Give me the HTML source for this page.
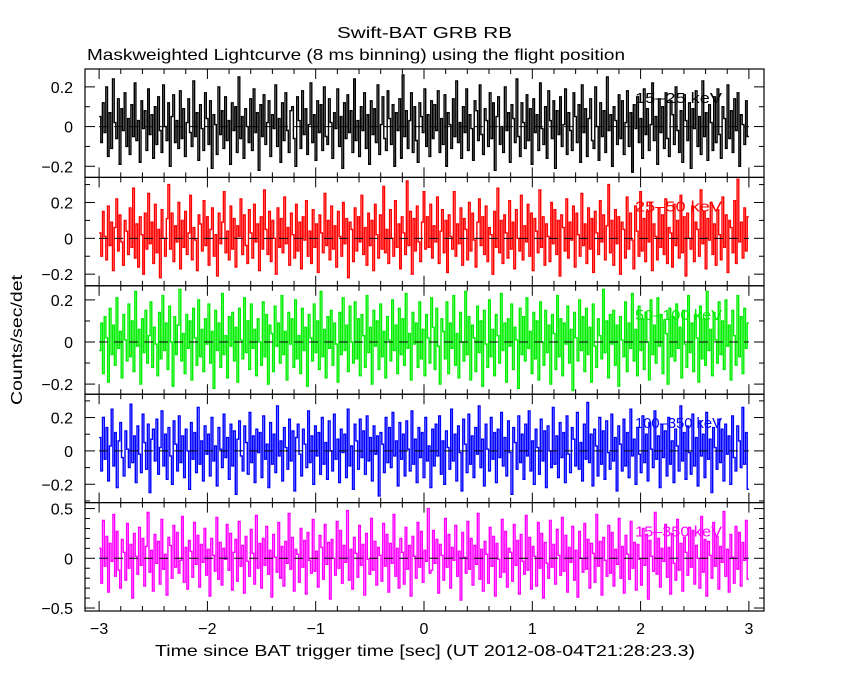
<!DOCTYPE html>
<html><head><meta charset="utf-8"><style>
html,body{margin:0;padding:0;background:#fff;}
svg{display:block;font-family:"Liberation Sans",sans-serif;}
</style></head><body>
<svg id="chart" width="850" height="680" viewBox="0 0 850 680" xmlns="http://www.w3.org/2000/svg">
<text x="337" y="38" font-size="16" textLength="175" lengthAdjust="spacingAndGlyphs">Swift-BAT GRB RB</text>
<text x="87" y="60" font-size="16" textLength="538" lengthAdjust="spacingAndGlyphs">Maskweighted Lightcurve (8 ms binning) using the flight position</text>
<text x="0" y="0" font-size="16" textLength="130" lengthAdjust="spacingAndGlyphs" transform="translate(22,405) rotate(-90)">Counts/sec/det</text>
<text x="155" y="656" font-size="16" textLength="540" lengthAdjust="spacingAndGlyphs">Time since BAT trigger time [sec] (UT 2012-08-04T21:28:23.3)</text>
<g id="plots"></g>
</svg>
<script>
const xTicks=[-3,-2,-1,0,1,2,3];
const bandLabels=["15\u201325 keV","25\u201350 keV","50\u2013100 keV","100\u2013350 keV","15\u2013350 keV"];
const bandColors=["#000000","#ff0000","#00ee00","#0000ff","#ff00ff"];
const yTickLabels=[[0.2,0,-0.2],[0.2,0,-0.2],[0.2,0,-0.2],[0.2,0,-0.2],[0.5,0,-0.5]];
const yRanges=[[-0.256,0.29],[-0.265,0.34],[-0.248,0.267],[-0.31,0.34],[-0.53,0.56]];
const series1=[5,-8,12,-3,20,-15,7,-11,24,2,-6,14,-19,9,-2,17,-10,4,-14,11,-5,22,-7,3,-18,13,-1,8,-12,19,-4,6,-16,10,-9,15,-2,-13,21,0,-7,12,-20,5,16,-8,3,-11,18,-6,9,-15,2,14,-3,-10,23,-5,7,-17,11,-1,-12,17,4,-9,13,-21,6,1,-14,20,-4,8,-11,15,-7,3,-19,12,-2,10,-13,25,-6,5,-16,9,0,-8,14,-12,19,-3,7,-22,11,-5,16,-9,2,13,-15,6,-1,21,-10,4,-18,12,-7,17,-2,-13,8,10,-6,-20,15,3,-11,18,-4,9,-14,1,22,-8,6,-17,13,-3,11,-12,20,-5,-9,14,2,-16,7,-1,19,-10,5,-21,12,-6,16,-3,8,-13,24,-7,3,-15,10,-2,17,-11,6,-19,13,-4,9,-8,21,-14,1,15,-6,-12,18,4,-9,11,-20,7,-2,14,-16,26,-5,8,-11,3,17,-13,10,-7,-18,12,5,-3,19,-10,6,-15,13,
-6,11,-2,18,-13,4,-9,16,-20,7,1,-11,14,-5,23,-8,2,-16,10,-3,19,-12,6,-1,-17,13,8,-7,21,-4,-14,9,3,-10,17,-6,12,-22,5,15,-9,0,-13,20,-2,7,-18,11,4,-8,24,-5,-15,12,2,-11,16,-7,9,-19,14,-3,6,-12,22,-1,-9,10,-16,18,3,-6,13,-21,8,-4,15,-10,1,19,-14,7,-2,-12,17,5,-8,11,-18,21,-3,9,-15,4,14,-7,-11,20,0,-17,12,-5,8,-13,25,-2,6,-20,10,3,-9,16,-6,13,-14,2,18,-10,7,-23,11,-1,15,-8,4,-16,19,-4,9,-12,1,22,-7,5,-19,14,-3,10,-11,17,-6,-15,13,6,-9,20,-2,-13,8,-18,16,3,-7,12,-21,9,-1,18,-10,5,-14,23,-5,7,-17,11,2,-12,15,-8,19,-4,-16,10,4,-11,21,-6,8,-13,14,-2,17,-20,6,1,-9,13,-5];
const series2=[3,-10,15,1,-12,18,-4,9,-18,6,22,-7,13,-2,-15,10,4,-9,17,-5,28,-11,8,-16,12,2,-20,14,-6,25,-3,9,-14,19,-8,5,-22,16,0,-10,11,30,-6,14,-13,7,-2,20,-17,10,-5,15,-9,3,24,-12,6,-1,-18,13,8,-7,21,-4,12,-15,5,17,-10,2,-21,14,-3,9,26,-8,4,-12,18,-6,11,-16,7,1,22,-9,13,-4,-14,16,3,-11,19,-2,8,-18,12,-6,27,5,-9,15,-13,10,0,-20,17,-5,11,-8,23,-3,6,-15,14,2,-11,19,-7,9,-17,12,-1,21,-10,4,-14,16,-5,8,-19,13,3,-8,25,-4,10,-12,18,-6,7,-16,15,1,-10,20,-3,11,-22,9,5,-13,17,-7,12,-2,24,-9,6,-15,14,-4,10,-18,19,2,-11,13,-6,29,-8,5,-14,16,0,-10,21,-5,8,-17,12,3,-9,32,-4,15,-20,11,-7,18,-2,-13,9,26,-6,
12,-5,19,-11,7,-2,23,-14,4,16,-8,10,-19,13,1,-6,26,-10,8,-3,17,-15,11,5,-12,20,-7,14,-1,-16,9,22,-4,12,-9,18,-13,6,2,-20,15,-5,28,-8,10,-14,13,3,-11,21,-6,9,-17,16,0,-7,24,-12,7,-2,19,-10,14,-18,11,4,-8,27,-5,12,-15,8,1,-13,20,-3,16,-9,10,-21,13,6,-7,22,-11,9,-1,18,-16,14,2,-10,25,-4,8,-14,17,-6,11,-19,15,3,-9,21,-2,13,-12,7,30,-8,10,-15,16,-3,12,-20,9,5,-11,23,-6,14,-1,-17,18,4,-10,26,-7,11,-13,15,-2,20,-18,8,1,-12,17,-5,13,-9,22,-14,6,3,-16,19,-4,10,-11,24,-8,12,-21,14,0,-6,18,-13,9,5,-10,27,-3,15,-17,11,-1,20,-9,8,-15,16,2,-12,23,-5,13,-19,10,6,-8,21,-14,33,-2,9,-11,17,-7,12];
const series3=[-4,9,-15,12,2,-19,16,-6,8,-11,21,-3,5,-17,13,1,-9,18,-7,10,-14,24,-2,6,-20,11,-5,15,-10,3,19,-12,7,-1,-16,14,-8,22,-4,9,-13,17,0,-21,12,-6,8,25,-9,4,-15,13,-3,10,-18,16,2,-11,20,-7,6,-14,11,-1,18,-10,5,-22,15,-4,9,-12,23,-6,3,-17,12,-2,14,-9,7,-19,16,1,-8,21,-5,10,-13,18,-3,6,-16,11,0,-11,19,-7,13,-20,8,4,-14,17,-2,9,-10,22,-6,5,-18,14,-1,11,-12,20,-8,3,-15,16,-4,7,-21,13,2,-9,18,-5,10,-13,24,-7,6,-17,12,-3,15,-11,9,-1,-19,14,-6,21,-4,8,-14,17,0,-10,19,-8,11,-16,13,3,-12,22,-5,7,-20,15,-2,10,-13,18,-7,5,-17,12,1,-9,20,-4,8,-15,16,-6,11,-11,23,-3,4,-18,14,-1,9,-12,19,-8,6,-16,13,2,-10,21,
7,-13,16,-2,-20,11,5,-8,19,-15,9,-3,22,-11,4,-17,14,0,-9,24,-6,12,-18,8,2,-14,17,-5,10,-21,15,-1,-12,20,-7,6,-16,13,3,-10,23,-4,9,-19,11,-2,18,-13,7,1,-22,16,-6,12,-9,21,-3,5,-15,14,-8,10,-18,19,0,-11,15,-5,8,-20,13,4,-13,22,-7,11,-16,9,-1,17,-10,6,-23,14,2,-9,20,-4,12,-14,16,-6,7,-19,18,-2,-12,11,3,-8,25,-5,10,-17,13,-1,15,-11,8,-21,12,1,-7,19,-14,9,-3,23,-9,6,-16,17,-4,11,-13,14,0,-18,20,-6,8,-10,21,-2,13,-15,10,4,-20,16,-7,12,-9,18,-3,7,-17,15,-1,-12,22,-5,9,-14,13,2,-19,17,-8,11,-11,24,-4,6,-16,14,1,-10,19,-6,10,-13,20,-2,8,-18,15,3,-11,22,-7,12,-15,16,-3,9];
const series4=[8,-12,20,-5,14,-18,3,25,-9,11,-22,6,17,-4,-15,12,1,-10,28,-7,9,-19,15,-2,-13,22,5,-11,16,-25,7,13,-6,19,-14,2,24,-9,10,-17,14,-3,-20,18,4,-12,21,-7,9,-16,13,0,-23,17,-5,11,-13,26,-8,6,-18,15,-2,10,-15,20,-6,3,-21,14,1,-10,22,-4,8,-17,16,-9,12,-26,7,18,-3,-12,15,5,-14,23,-7,9,-19,13,-1,11,-16,21,-5,4,-22,17,-8,10,-13,27,-3,6,-18,14,2,-11,19,-6,12,-24,8,16,-2,-15,13,4,-10,24,-7,9,-20,15,-3,11,-14,20,-8,5,-17,18,0,-12,22,-5,7,-19,13,-1,10,-16,25,-9,3,-23,16,6,-11,19,-4,12,-14,21,-6,8,-18,15,-2,9,-27,11,4,-13,20,-7,14,-10,23,-3,6,-21,17,-5,10,-15,18,1,-12,24,-8,7,-19,14,-4,11,-16,20,-6,3,-22,13,
-9,16,-3,21,-14,6,-20,12,2,-11,25,-6,10,-18,15,-1,-24,19,4,-13,22,-8,9,-16,14,-2,27,-10,7,-21,16,1,-12,20,-5,11,-19,13,-4,23,-9,8,-15,18,-1,-26,14,5,-11,21,-7,10,-17,16,-3,24,-12,6,-20,13,2,-14,19,-6,12,-22,15,0,-10,26,-8,9,-16,17,-4,11,-19,21,-2,-13,14,7,-9,23,-11,5,-18,16,-5,29,-7,10,-21,13,3,-15,20,-8,12,-17,18,-1,-11,22,-6,8,-24,15,4,-12,19,-9,11,-16,25,-3,7,-20,14,-2,-13,21,-7,10,-18,17,1,-10,24,-5,9,-22,16,-4,12,-15,20,-8,6,-19,13,3,-12,27,-6,11,-17,15,-1,-14,22,-9,8,-21,18,-3,10,-16,23,-5,7,-25,14,2,-11,19,-7,13,-18,16,-2,9,-20,21,-4,-12,15,6,-10,26,-8,11,-23];
const series5=[10,-25,38,-8,22,-34,15,-3,44,-18,27,-12,-30,19,6,-22,35,-10,14,-40,25,2,-16,31,-7,20,-28,12,46,-14,8,-33,24,-5,17,-26,39,-11,4,-37,21,13,-20,33,-9,26,-15,-2,42,-24,11,-31,18,7,-19,36,-6,23,-29,14,-4,30,-17,9,-38,20,3,-13,41,-21,16,-27,10,-1,34,-12,25,-32,6,19,-23,37,-8,13,-35,22,-3,-18,29,5,-26,43,-10,15,-30,20,-7,32,-16,8,-39,24,1,-14,36,-20,12,-28,17,-5,45,-11,21,-33,9,4,-24,30,-9,18,-36,26,-2,-15,39,-13,7,-29,23,11,-21,34,-6,16,-41,19,0,-17,37,-10,28,-25,13,-4,48,-22,9,-31,21,5,-19,33,-7,14,-37,25,-1,-16,40,-12,17,-27,11,3,-23,35,-8,24,-34,15,-5,44,-18,10,-30,20,6,-26,31,-11,13,-38,22,2,-20,36,-9,27,-24,8,-3,50,-15,
-12,28,-5,19,-35,14,3,-22,40,-9,24,-30,11,-2,33,-18,7,-42,26,1,-15,37,-11,20,-27,13,-6,45,-21,9,-33,17,4,-25,31,-8,22,-38,15,-1,-19,39,-14,27,-29,10,6,-23,34,-7,18,-36,24,-3,-16,43,-12,21,-31,12,2,-28,36,-10,25,-40,16,-5,-20,38,-9,14,-26,29,3,-17,41,-13,23,-34,11,-4,32,-22,8,-39,27,0,-14,35,-11,19,-30,15,5,-24,44,-8,17,-37,21,-2,-18,33,-15,26,-28,9,-6,40,-20,12,-35,23,4,-21,37,-10,16,-32,14,-1,-27,30,-7,24,-41,18,2,-13,46,-16,20,-29,10,-3,34,-19,11,-36,25,-5,-22,39,-12,15,-33,21,6,-17,31,-9,28,-26,13,0,-30,42,-14,19,-38,17,3,-20,36,-8,22,-31,12,-4,47,-18,9,-34,24,1,-25,32,-11,26,-28,16,-2,38,-21];
const seriesList=[series1,series2,series3,series4,series5];
const scaleFactors=[0.01,0.01,0.01,0.01,0.01];

const NS="http://www.w3.org/2000/svg";
const g=document.getElementById('plots');
const L=85,R=764,TOP=69,BOT=611,NP=5;
const PH=(BOT-TOP)/NP;
function xScale(t){return 424+t*108.3;}
function mk(tag,attrs){const e=document.createElementNS(NS,tag);for(const k in attrs)e.setAttribute(k,attrs[k]);return e;}
for(let p=0;p<NP;p++){
  const top=TOP+p*PH, bot=top+PH;
  const [y0,y1]=yRanges[p];
  const yScale=v=>bot-(v-y0)/(y1-y0)*PH;
  const panel=mk('g',{});
  
  
  g.appendChild(panel);
  const bl=mk('text',{x:635,y:top+34,'font-size':15,textLength:87,lengthAdjust:'spacingAndGlyphs',fill:bandColors[p]});
  
  
  bl.textContent=bandLabels[p];
  panel.appendChild(bl);
  const vals=seriesList[p];const n=vals.length;const bw=6/n;
  let d='';
  for(let i=0;i<n;i++){
    const v=vals[i]*scaleFactors[p];
    const xa=xScale(-3+i*bw),xb=xScale(-3+(i+1)*bw),y=yScale(v);
    d+=(i===0?'M':'L')+xa.toFixed(1)+','+y.toFixed(1)+'L'+xb.toFixed(1)+','+y.toFixed(1);
  }
  const path=mk('path',{d:d,fill:'none',stroke:bandColors[p],'stroke-width':1.4});
  
  
  panel.appendChild(path);
  const zl=mk('line',{x1:xScale(-3),x2:xScale(3),y1:yScale(0),y2:yScale(0),stroke:'#000','stroke-dasharray':'9,6','stroke-width':1});
  
  
  panel.appendChild(zl);
  const fr=mk('rect',{x:L,y:top,width:R-L,height:PH,fill:'none',stroke:'#000','stroke-width':1.2});
  
  
  panel.appendChild(fr);
  for(let k=-15;k<=15;k++){
    const t=k*0.2,x=xScale(t),maj=(k%5===0),len=maj?10:5;
    panel.appendChild(mk('line',{x1:x,x2:x,y1:top,y2:top+len,stroke:'#000'}));
    panel.appendChild(mk('line',{x1:x,x2:x,y1:bot,y2:bot-len,stroke:'#000'}));
  }
  const step=0.1;const majStep=(p===4)?0.5:0.2;
  for(let k=Math.ceil(y0/step);k<=Math.floor(y1/step);k++){
    const v=k*step,y=yScale(v);
    const maj=Math.abs(v/majStep-Math.round(v/majStep))<1e-6,len=maj?10:5;
    panel.appendChild(mk('line',{x1:L,x2:L+len,y1:y,y2:y,stroke:'#000'}));
    panel.appendChild(mk('line',{x1:R,x2:R-len,y1:y,y2:y,stroke:'#000'}));
  }
  yTickLabels[p].forEach(v=>{
    const t=mk('text',{x:L-12,y:yScale(v)+6,'font-size':16,'text-anchor':'end'});
    
    
    t.textContent=(v<0?'\u2212'+Math.abs(v):String(v));
    panel.appendChild(t);
  });
}
xTicks.forEach(t=>{
  const tx=mk('text',{x:xScale(t),y:634,'font-size':16,'text-anchor':'middle'});
  
  
  tx.textContent=(t<0?'\u2212'+Math.abs(t):String(t));
  g.appendChild(tx);
});
</script>
</body></html>
